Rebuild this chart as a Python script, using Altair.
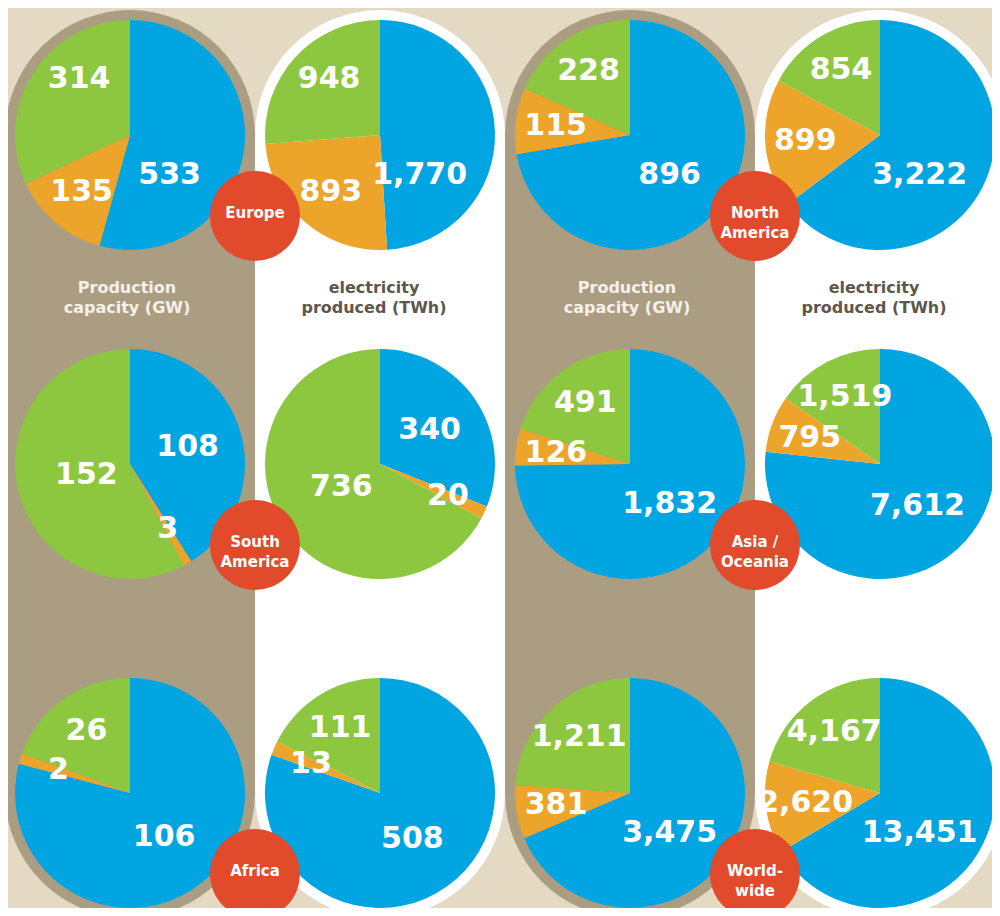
import math
import altair as alt
import pandas as pd

# ---------------- data ----------------
regions = ["Europe", "North America", "South America", "Asia / Oceania", "Africa", "World-wide"]
region_labels = ["Europe", "North\nAmerica", "South\nAmerica", "Asia /\nOceania", "Africa", "World-\nwide"]
sources = ["Fossil", "Nuclear", "Renewable"]
measures = ["Production\ncapacity (GW)", "electricity\nproduced (TWh)"]

capacity_fossil = [533, 896, 108, 1832, 106, 3475]
capacity_nuclear = [135, 115, 3, 126, 2, 381]
capacity_renewable = [314, 228, 152, 491, 26, 1211]

electricity_fossil = [1770, 3222, 340, 7612, 508, 13451]
electricity_nuclear = [893, 899, 20, 795, 13, 2620]
electricity_renewable = [948, 854, 736, 1519, 111, 4167]

# ---------------- layout (grid slots, not data) ----------------
region_block = [0, 1, 0, 1, 0, 1]   # left or right pair of columns
region_row = [0, 0, 1, 1, 2, 2]
capacity_cols = [0, 2]
electricity_cols = [1, 3]

COLORS = ["#00a5e1", "#eca42a", "#8dc63f"]
BEIGE = "#e4dac4"
TAN = "#ab9d82"
RED = "#e14b2c"
FONT = "DejaVu Sans"

series = {
    0: [capacity_fossil, capacity_nuclear, capacity_renewable],
    1: [electricity_fossil, electricity_nuclear, electricity_renewable],
}

rows = []
for i, reg in enumerate(regions):
    for m in (0, 1):
        for s, src in enumerate(sources):
            rows.append({
                "region": reg,
                "measure": measures[m],
                "source": src,
                "order": s,
                "value": series[m][s][i],
                "col": region_block[i] * 2 + m,
                "row": region_row[i],
            })
df = pd.DataFrame(rows)

reg_df = pd.DataFrame({
    "label": region_labels,
    "col": [b * 2 + 0.5 for b in region_block],
    "row": region_row,
})

xs = alt.Scale(domain=[0, 3], range=[122, 872], zero=False, nice=False)
ys = alt.Scale(domain=[0, 2], range=[127, 785], zero=False, nice=False)
X = lambda f: alt.X(f, type="quantitative", scale=xs, axis=None)
Y = lambda f: alt.Y(f, type="quantitative", scale=ys, axis=None)

# ---------------- backgrounds (pills) ----------------
def pill_layers(cols, color):
    rect_df = pd.DataFrame({"col": cols})
    rect = alt.Chart(rect_df).transform_calculate(
        c0="datum.col - 0.5", c1="datum.col + 0.5", r0="0", r1="2"
    ).mark_rect(color=color, strokeWidth=0).encode(
        x=X("c0"), x2="c1:Q", y=Y("r0"), y2="r1:Q"
    )
    cap_df = pd.DataFrame({"col": [c for c in cols for _ in (0, 1)],
                           "row": [r for _ in cols for r in (0, 2)]})
    caps = alt.Chart(cap_df).mark_arc(
        color=color, outerRadius=125, theta=0, theta2=2 * math.pi
    ).encode(x=X("col"), y=Y("row"))
    return [rect, caps]

bg = pill_layers(capacity_cols, TAN) + pill_layers(electricity_cols, "#ffffff")

# ---------------- pies ----------------
DEG = "PI/180"
base = alt.Chart(df).transform_joinaggregate(
    total="sum(value)", groupby=["region", "measure"]
).transform_window(
    cum="sum(value)", sort=[alt.SortField("order")],
    groupby=["region", "measure"], frame=[None, 0]
).transform_calculate(
    t0="2*PI*(datum.cum - datum.value)/datum.total"
).transform_calculate(
    t1="2*PI*datum.cum/datum.total"
).transform_calculate(
    span="(datum.t1 - datum.t0)/(" + DEG + ")"
).transform_calculate(
    tm="(datum.t0 + datum.t1)/2"
).transform_calculate(
    big="datum.source === 'Fossil' && datum.span >= 170"
).transform_calculate(
    topgreen="datum.source === 'Renewable' && datum.span < 180"
).transform_calculate(
    lt="datum.big ? clamp(datum.tm, 135*" + DEG + ", 145*" + DEG + ") : "
       "(datum.topgreen ? max(datum.tm, 318*" + DEG + ") : datum.tm)"
).transform_calculate(
    lr="datum.big ? 56 : (datum.topgreen ? 76 : (datum.span >= 200 ? 45 : (datum.span >= 100 ? 60 : 75)))"
)

pies = base.mark_arc(outerRadius=115).encode(
    x=X("col"), y=Y("row"),
    theta=alt.Theta("t0:Q", scale=None, stack=None),
    theta2="t1:Q",
    color=alt.Color("source:N", scale=alt.Scale(domain=sources, range=COLORS), legend=None),
    order=alt.Order("order:Q"),
)

values = base.mark_text(
    font=FONT, fontSize=30, fontWeight="bold", color="white",
    align="center", baseline="middle"
).encode(
    x=X("col"), y=Y("row"),
    theta=alt.Theta("lt:Q", scale=None, stack=None),
    radius=alt.Radius("lr:Q", scale=None),
    text=alt.Text("value:Q", format=","),
)

# ---------------- region badges ----------------
badges = alt.Chart(reg_df).mark_arc(
    color=RED, outerRadius=45, theta=0, theta2=2 * math.pi, yOffset=81
).encode(x=X("col"), y=Y("row"))

badge_text = alt.Chart(reg_df).mark_text(
    font=FONT, fontSize=15, fontWeight="bold", color="white",
    align="center", baseline="middle", lineBreak="\n", lineHeight=20, yOffset=78
).encode(x=X("col"), y=Y("row"), text="label:N")

# ---------------- measure captions ----------------
cap_txt = pd.DataFrame({"col": capacity_cols, "row": [0, 0], "label": [measures[0]] * 2})
ele_txt = pd.DataFrame({"col": electricity_cols, "row": [0, 0], "label": [measures[1]] * 2})
cap_caption = alt.Chart(cap_txt).mark_text(
    font=FONT, fontSize=16, fontWeight="bold", color="#f5f1ea",
    align="center", baseline="middle", lineBreak="\n", lineHeight=20, yOffset=153, dx=-3
).encode(x=X("col"), y=Y("row"), text="label:N")
ele_caption = alt.Chart(ele_txt).mark_text(
    font=FONT, fontSize=16, fontWeight="bold", color="#5e574c",
    align="center", baseline="middle", lineBreak="\n", lineHeight=20, yOffset=153, dx=-6
).encode(x=X("col"), y=Y("row"), text="label:N")

chart = alt.layer(
    *bg, pies, badges, values, badge_text, cap_caption, ele_caption
).properties(
    width=984, height=900, padding=0,
    autosize=alt.AutoSizeParams(type="none"),
    background=BEIGE,
).configure_view(stroke=None)

chart.save("out.html", embed_options={"renderer": "svg", "actions": False})
